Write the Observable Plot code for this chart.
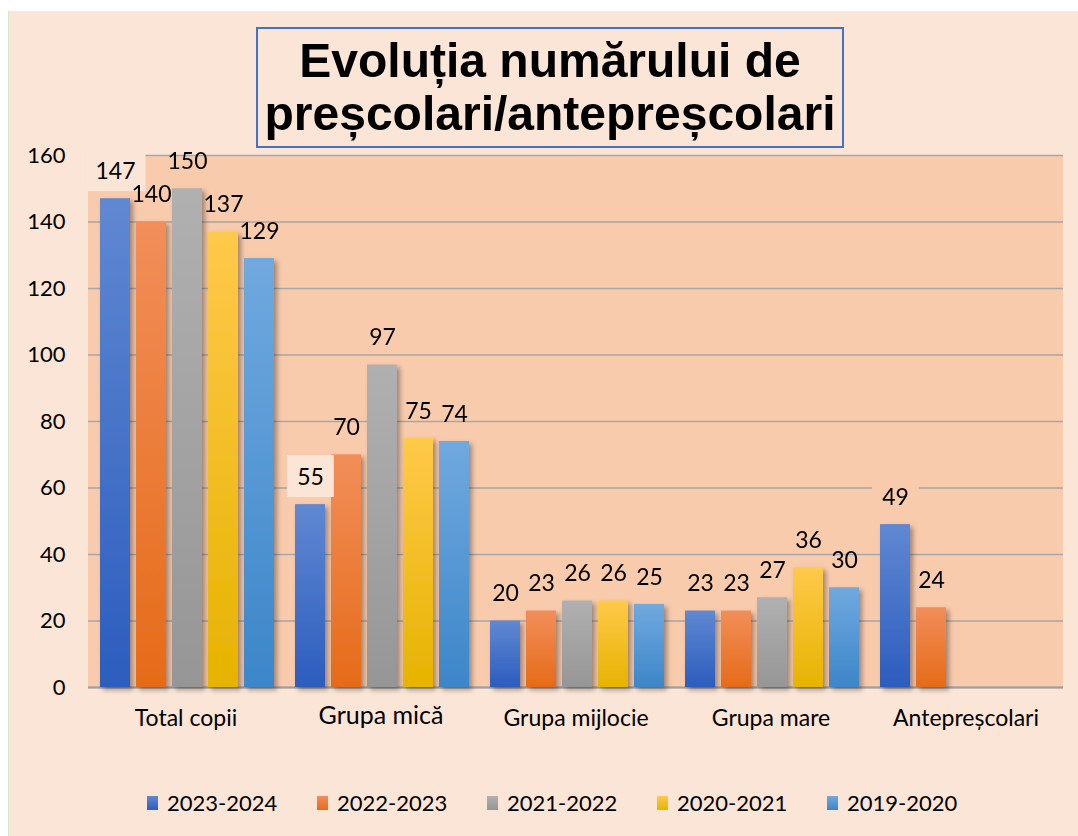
<!DOCTYPE html>
<html>
<head>
<meta charset="utf-8">
<script src="https://cdn.jsdelivr.net/npm/d3@7"></script>
<script src="https://cdn.jsdelivr.net/npm/@observablehq/plot@0.6"></script>
<style>
  body { margin: 0; background: #ffffff; width: 1078px; height: 836px; overflow: hidden; position: relative; }
  #bg { position: absolute; left: 8px; top: 11px; width: 1070px; height: 825px; background: #FBE5D6; border-left: 1px solid #D6E7CC; box-sizing: border-box; }
  #title { position: absolute; left: 256px; top: 27px; width: 588px; height: 121px; box-sizing: border-box;
    border: 2px solid #4472C4; font-family: "Liberation Sans", Arial, sans-serif; font-weight: bold;
    font-size: 48px; line-height: 53px; text-align: center; color: #000;
    display: flex; align-items: center; justify-content: center; padding-bottom: 2px; }
  #plot { position: absolute; left: 0; top: 140px; }
  #legend { position: absolute; left: 147px; top: 789px; display: flex; gap: 0; font-family: Lato, "Open Sans", sans-serif; font-size: 22px; color: #000; }
  #legend .item { display: flex; align-items: center; width: 170px; }
  #legend .sw { width: 11px; height: 14px; margin-right: 9px; }
</style>
</head>
<body>
<div id="bg"></div>
<div id="plot"></div>
<div id="title">Evoluția numărului de<br>preșcolari/antepreșcolari</div>
<div id="legend"></div>
<script>
const categories = ["Total copii", "Grupa mică", "Grupa mijlocie", "Grupa mare", "Antepreșcolari"];
const series = ["2023-2024", "2022-2023", "2021-2022", "2020-2021", "2019-2020"];
const values2023_2024 = [147, 55, 20, 23, 49];
const values2022_2023 = [140, 70, 23, 23, 24];
const values2021_2022 = [150, 97, 26, 27, null];
const values2020_2021 = [137, 75, 26, 36, null];
const values2019_2020 = [129, 74, 25, 30, null];
const yTicks = [0, 20, 40, 60, 80, 100, 120, 140, 160];

const seriesValues = [values2023_2024, values2022_2023, values2021_2022, values2020_2021, values2019_2020];
const gradTop = ["#6088D2", "#F28E5A", "#B0B0B0", "#FFC94A", "#70A9DF"];
const gradBot = ["#2C5DBE", "#E56B18", "#969696", "#E6B300", "#3C86C9"];

const rows = [];
series.forEach((s, i) => {
  categories.forEach((c, j) => {
    const v = seriesValues[i][j];
    if (v != null) rows.push({cat: c, series: s, value: v});
  });
});

const chart = Plot.plot({
  width: 1078,
  height: 600,
  marginLeft: 88,
  marginRight: 15,
  marginTop: 15,
  marginBottom: 53,
  style: {background: "transparent", fontFamily: "Lato, 'Open Sans', sans-serif", fontSize: "20px", color: "#000", overflow: "visible"},
  fx: {domain: categories, padding: 0, label: null},
  x: {domain: series, axis: null, paddingInner: 0.167, paddingOuter: 0.29, align: 0.55},
  y: {domain: [0, 160], label: null},
  color: {domain: series, range: series.map((_, i) => `url(#g${i})`)},
  marks: [
    Plot.axisY(yTicks, {tickSize: 0, tickPadding: 23, fontSize: 22, label: null}),
    Plot.axisFx({anchor: "bottom", tickSize: 0, tickPadding: 22, fontSize: 23, label: null}),
    Plot.gridY(yTicks, {stroke: "#A6A6A6", strokeOpacity: 1, strokeWidth: 1.5}),
    Plot.ruleY([0], {stroke: "#9E9E9E", strokeWidth: 2}),
    Plot.barY(rows, {fx: "cat", x: "series", y: "value", fill: "series"}),
    Plot.text(rows, {fx: "cat", x: "series", y: "value", text: d => String(d.value), dy: -27, fontSize: 23, fill: "#000"})
  ]
});
document.getElementById("plot").appendChild(chart);

const ns = "http://www.w3.org/2000/svg";
// axis label font sizes
chart.querySelectorAll('g[aria-label="y-axis tick label"] text').forEach(t => { t.style.fontSize = "22px"; });
chart.querySelectorAll('g[aria-label="fx-axis tick label"] text').forEach(t => { t.style.fontSize = "23px"; });

// plot-area background derived from the scales
const fxs = chart.scale("fx"), ys = chart.scale("y");
const bgRect = document.createElementNS(ns, "rect");
const xr = [fxs.range[0], fxs.range[1]];
const yr = [ys.apply(160), ys.apply(0)];
bgRect.setAttribute("x", Math.min(...xr));
bgRect.setAttribute("width", Math.abs(xr[1] - xr[0]));
bgRect.setAttribute("y", yr[0]);
bgRect.setAttribute("height", yr[1] - yr[0]);
bgRect.setAttribute("fill", "#F8CBAD");

// gradients and shadow
const defs = document.createElementNS(ns, "defs");
let html = "";
series.forEach((s, i) => {
  html += `<linearGradient id="g${i}" x1="0" y1="0" x2="0" y2="1"><stop offset="0" stop-color="${gradTop[i]}"/><stop offset="1" stop-color="${gradBot[i]}"/></linearGradient>`;
});
html += `<filter id="shadow" x="-20%" y="-20%" width="150%" height="150%"><feDropShadow dx="3" dy="3" stdDeviation="2.5" flood-color="#000" flood-opacity="0.35"/></filter>`;
defs.innerHTML = html;
chart.insertBefore(bgRect, chart.querySelector("g") || chart.firstChild);
chart.insertBefore(defs, chart.firstChild);
chart.querySelectorAll('g[aria-label="bar"]').forEach(g => g.setAttribute("filter", "url(#shadow)"));

// label background boxes
const boxes = {"147": "#FBE5D6", "55": "#FBE5D6", "49": "#F8CBAD"};
chart.querySelectorAll('g[aria-label="text"] text').forEach(t => {
  const col = boxes[t.textContent];
  if (!col) return;
  const b = t.getBBox();
  const r = document.createElementNS(ns, "rect");
  const w = b.width + 20, h = 42;
  r.setAttribute("x", b.x + b.width / 2 - w / 2);
  r.setAttribute("y", b.y + b.height / 2 - h / 2);
  r.setAttribute("width", w);
  r.setAttribute("height", h);
  r.setAttribute("fill", col);
  if (t.getAttribute("transform")) r.setAttribute("transform", t.getAttribute("transform"));
  t.parentNode.insertBefore(r, t);
});

// slightly larger "Grupa mică" label
chart.querySelectorAll('text').forEach(t => {
  if (t.textContent === "Grupa mică") { t.style.fontSize = "25px"; t.setAttribute("transform", (t.getAttribute("transform") || "") + " translate(0,-3)"); }
});

// legend
const legend = document.getElementById("legend");
series.forEach((s, i) => {
  const it = document.createElement("div");
  it.className = "item";
  it.innerHTML = `<span class="sw" style="background:linear-gradient(${gradTop[i]},${gradBot[i]})"></span><span>${s}</span>`;
  legend.appendChild(it);
});
</script>
</body>
</html>
